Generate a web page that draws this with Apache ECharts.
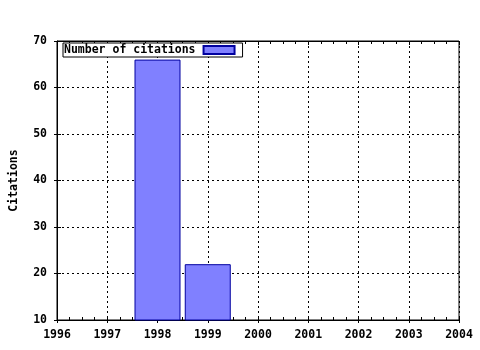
<!DOCTYPE html>
<html><head><meta charset="utf-8">
<script src="https://cdn.jsdelivr.net/npm/echarts@6/dist/echarts.min.js"></script>
<style>html,body{margin:0;padding:0;background:#fff}#c{width:480px;height:350px}</style>
</head><body><div id="c"></div>
<script>
var years = [1998, 1999];
var citations = [66, 22];
var seriesName = 'Number of citations';
var yName = 'Citations';

var font = {fontFamily: 'DejaVu Sans Mono', fontWeight: 'bold', fontSize: 11.5, color: '#000'};
var split = {show: true, lineStyle: {color: '#000', type: [2, 3], width: 1}};
var xBase = {type: 'value', min: 1996, max: 2004, interval: 1, gridIndex: 0};
var yBase = {type: 'value', min: 10, max: 70, interval: 10, gridIndex: 0};
var chart = echarts.init(document.getElementById('c'), null, {renderer: 'canvas'});
chart.setOption({
  animation: false,
  backgroundColor: '#fff',
  grid: {left: 57, right: 21, top: 41, bottom: 30, containLabel: false, outerBoundsMode: 'none', show: true, borderColor: '#000', borderWidth: 1, backgroundColor: 'transparent'},
  legend: {
    left: 63, top: 43, orient: 'horizontal', align: 'right',
    backgroundColor: '#fff', borderColor: '#000', borderWidth: 1, padding: [1, 7, 1, 1],
    itemWidth: 31, itemHeight: 8, itemGap: 0, icon: 'rect',
    textStyle: {fontFamily: 'DejaVu Sans Mono', fontWeight: 'bold', fontSize: 11.5, color: '#000', padding: [0, 3, 0, 0]},
    data: [seriesName]
  },
  xAxis: [
    Object.assign({}, xBase, {position: 'bottom', axisLine: {show: true, lineStyle: {color: '#000'}},
      axisTick: {show: true, inside: false, length: 3, lineStyle: {color: '#000'}},
      axisLabel: Object.assign({margin: 9, formatter: function(v){return String(v);}}, font),
      splitLine: split}),
    Object.assign({}, xBase, {position: 'bottom', axisLine: {show: false},
      axisTick: {show: true, inside: true, length: 4, lineStyle: {color: '#000'}},
      minorTick: {show: true, splitNumber: 4, length: 3, lineStyle: {color: '#000'}},
      axisLabel: {show: false}, splitLine: {show: false}}),
    Object.assign({}, xBase, {position: 'top', axisLine: {show: true, lineStyle: {color: '#000'}},
      axisTick: {show: true, inside: true, length: 4, lineStyle: {color: '#000'}},
      minorTick: {show: true, splitNumber: 4, length: 3, lineStyle: {color: '#000'}},
      axisLabel: {show: false}, splitLine: {show: false}})
  ],
  yAxis: [
    Object.assign({}, yBase, {position: 'left', name: yName, nameLocation: 'middle', nameGap: 37, nameRotate: 90,
      nameTextStyle: {fontFamily: 'DejaVu Sans Mono', fontWeight: 'bold', fontSize: 11.5, color: '#000'},
      axisLine: {show: true, lineStyle: {color: '#000'}},
      axisTick: {show: true, inside: false, length: 3, lineStyle: {color: '#000'}},
      axisLabel: Object.assign({margin: 10}, font), splitLine: split}),
    Object.assign({}, yBase, {position: 'left', axisLine: {show: false},
      axisTick: {show: true, inside: true, length: 4, lineStyle: {color: '#000'}},
      axisLabel: {show: false}, splitLine: {show: false}})
  ],
  series: [{
    name: seriesName, type: 'bar', xAxisIndex: 0, yAxisIndex: 0, barWidth: 46, clip: true,
    itemStyle: {color: '#8080ff', borderColor: '#0000a0', borderWidth: 1},
    data: years.map(function(y, i){return [y, citations[i]];})
  }]
});
</script></body></html>
